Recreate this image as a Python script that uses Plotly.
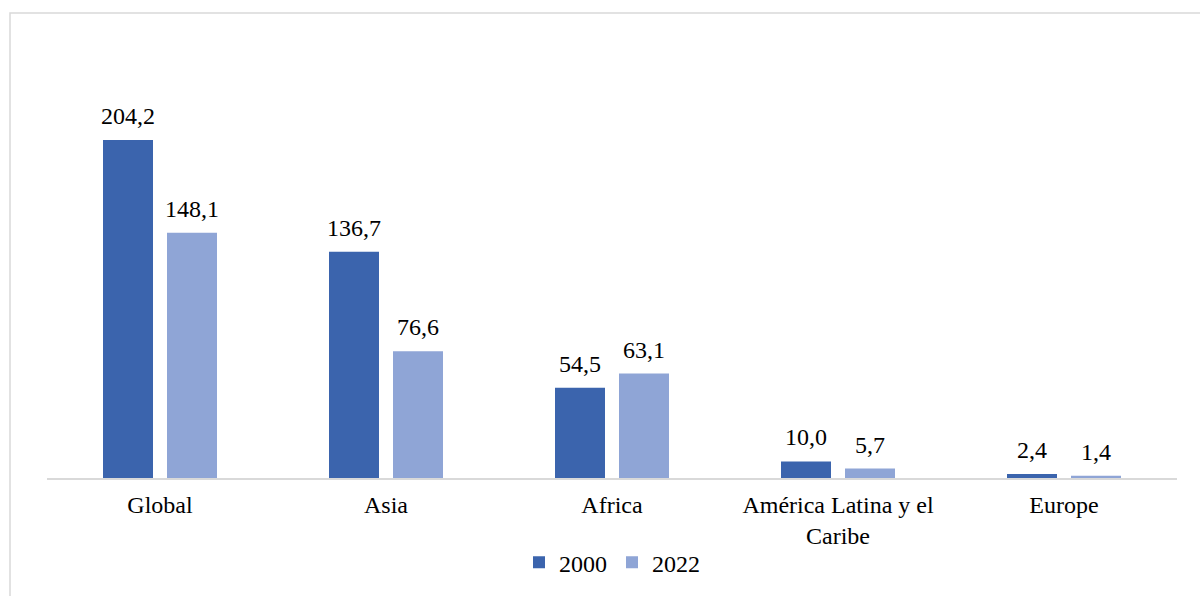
import plotly.graph_objects as go

regions = ["Global", "Asia", "Africa", "América Latina y el<br>Caribe", "Europe"]
values_2000 = [204.2, 136.7, 54.5, 10.0, 2.4]
values_2022 = [148.1, 76.6, 63.1, 5.7, 1.4]

color_2000 = "#3B64AD"
color_2022 = "#8FA5D6"
font_family = "Liberation Serif"
font_size = 24

# bar geometry in category units (one category = 1)
bar_width = 50 / 226
offset_2000 = -57 / 226
offset_2022 = 7 / 226


def fmt(v):
    return f"{v:.1f}".replace(".", ",")


fig = go.Figure()
fig.add_trace(go.Bar(
    name="2000", x=regions, y=values_2000,
    width=bar_width, offset=offset_2000,
    marker=dict(color=color_2000, line=dict(width=0)),
))
fig.add_trace(go.Bar(
    name="2022", x=regions, y=values_2022,
    width=bar_width, offset=offset_2022,
    marker=dict(color=color_2022, line=dict(width=0)),
))

# value labels above each bar, centred on the bar
for series, shift in ((values_2000, -32), (values_2022, 32)):
    for region, v in zip(regions, series):
        fig.add_annotation(
            x=region, y=v, xref="x", yref="y", text=fmt(v),
            showarrow=False, xshift=shift, yshift=9, yanchor="bottom",
            font=dict(family=font_family, size=font_size, color="#000000"),
        )

fig.update_layout(
    width=1200, height=596,
    margin=dict(l=47, r=23, t=40, b=118, autoexpand=False),
    paper_bgcolor="white", plot_bgcolor="white",
    barmode="overlay",
    font=dict(family=font_family, size=font_size, color="#000000"),
    showlegend=True,
    legend=dict(
        orientation="h", x=0.5, xanchor="center", y=-0.142, yanchor="top",
        font=dict(family=font_family, size=font_size, color="#000000"),
        itemwidth=30,
    ),
    xaxis=dict(
        showline=True, linecolor="#D9D9D9", linewidth=1.5, automargin=False,
        showgrid=False, ticks="", zeroline=False, ticklabelstandoff=4,
        tickfont=dict(family=font_family, size=font_size, color="#000000"),
    ),
    yaxis=dict(
        range=[0, 264.6], visible=False, showgrid=False, zeroline=False,
        automargin=False,
    ),
)

# outer frame of the chart area
fig.add_shape(
    type="rect", xref="paper", yref="paper",
    x0=(10 - 47) / 1130, x1=(1215 - 47) / 1130,
    y0=(478 - 13) / 438, y1=(478 - 620) / 438,
    line=dict(color="#D9D9D9", width=1.5), fillcolor="rgba(0,0,0,0)",
    layer="below",
)

fig.write_html("out.html")
